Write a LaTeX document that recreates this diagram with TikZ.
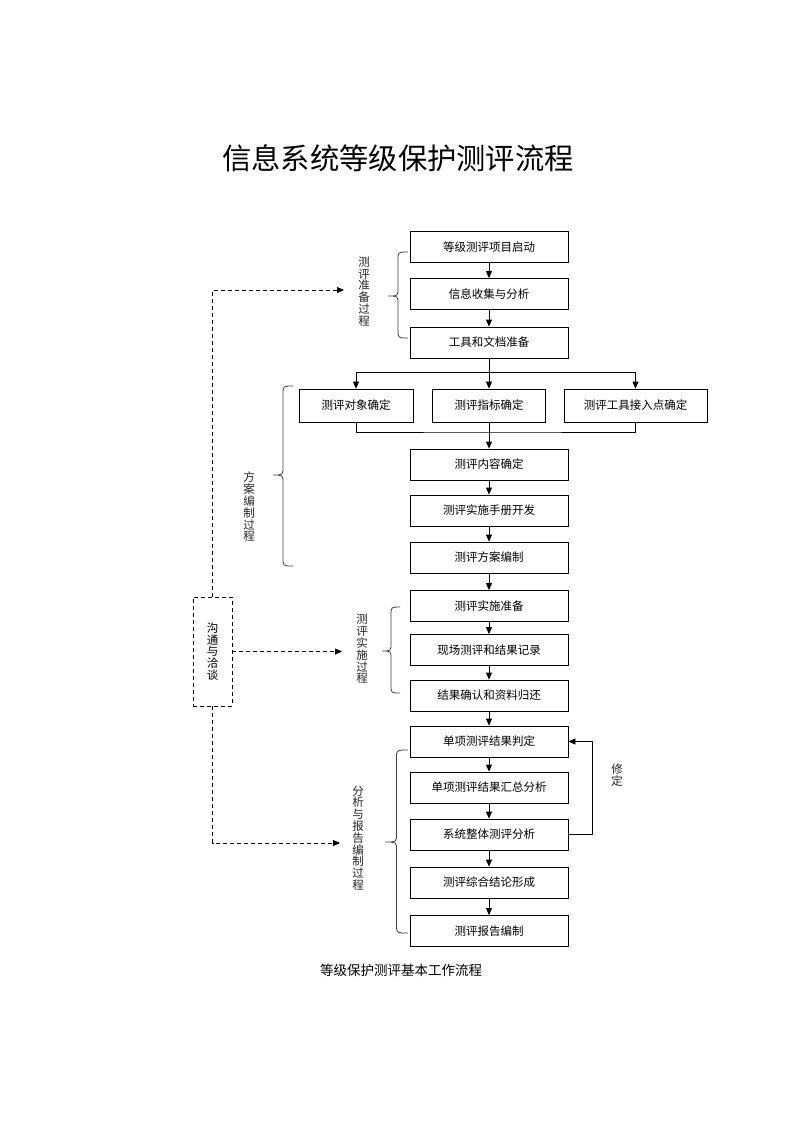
\documentclass[tikz,border=0pt]{standalone}
\usepackage{fontspec}
\setmainfont{Noto Sans CJK SC}
\usetikzlibrary{arrows.meta}
\newcommand\brc[5]{% xr, xtip, top, tip, bot
  \pgfmathsetmacro\xm{(#1+#2)/2}
  \draw[bracestyle] (#1,#3) .. controls (\xm,#3) .. (\xm,#3+8) -- (\xm,#4-8)
    .. controls (\xm,#4) .. (#2,#4) .. controls (\xm,#4) .. (\xm,#4+8)
    -- (\xm,#5-8) .. controls (\xm,#5) .. (#1,#5);}
\tikzset{
  box/.style={draw, line width=0.8pt, minimum width=158pt, minimum height=31pt, inner sep=0pt, font=\fontsize{11.5}{13}\selectfont},
  arr/.style={line width=0.8pt, -{Triangle[length=7pt,width=6pt]}},
  line/.style={line width=0.8pt},
  darr/.style={line width=0.8pt, dash pattern=on 4pt off 3pt, -{Triangle[length=7pt,width=6pt]}},
  bracestyle/.style={line width=0.8pt, black!75},
  vlabel/.style={align=center, inner sep=0pt, font=\fontsize{11.5}{11.8}\selectfont, text=black!85},
}
\begin{document}
\begin{tikzpicture}[x=1pt,y=-1pt]
\useasboundingbox[fill=white] (0,0) rectangle (793,1122);
\node[font=\fontsize{29.3}{33}\selectfont] (title) at (398,158) {信息系统等级保护测评流程};

\node[box] (b1) at (489,247) {等级测评项目启动};
\node[box] (b2) at (489,294) {信息收集与分析};
\node[box] (b3) at (489,342.5) {工具和文档准备};
\node[box, minimum width=114pt, minimum height=33pt] (tl) at (356,405.5) {测评对象确定};
\node[box, minimum width=113pt, minimum height=33pt] (tm) at (489,405.5) {测评指标确定};
\node[box, minimum width=143pt, minimum height=33pt] (tr) at (635.5,405.5) {测评工具接入点确定};
\node[box] (b4) at (489,464.5) {测评内容确定};
\node[box] (b5) at (489,510.5) {测评实施手册开发};
\node[box] (b6) at (489,557.5) {测评方案编制};
\node[box] (b7) at (489,606) {测评实施准备};
\node[box] (b8) at (489,650) {现场测评和结果记录};
\node[box] (b9) at (489,695.5) {结果确认和资料归还};
\node[box] (b10) at (489,741.5) {单项测评结果判定};
\node[box] (b11) at (489,787.5) {单项测评结果汇总分析};
\node[box] (b12) at (489,834.5) {系统整体测评分析};
\node[box] (b13) at (489,882.5) {测评综合结论形成};
\node[box] (b14) at (489,931) {测评报告编制};

\draw[arr] (b1) -- (b2);
\draw[arr] (b2) -- (b3);
\coordinate (sp) at (489,372);
\draw[line] (b3.south) -- (sp);
\draw[arr] (sp) -| (tl.north);
\draw[arr] (sp) -- (tm.north);
\draw[arr] (sp) -| (tr.north);
\coordinate (jn) at (489,432);
\draw[line] (tl.south) |- (jn) -| (tr.south);
\draw[arr] (tm.south) -- (b4.north);
\draw[arr] (b4) -- (b5);
\draw[arr] (b5) -- (b6);
\draw[arr] (b6) -- (b7);
\draw[arr] (b7) -- (b8);
\draw[arr] (b8) -- (b9);
\draw[arr] (b9) -- (b10);
\draw[arr] (b10) -- (b11);
\draw[arr] (b11) -- (b12);
\draw[arr] (b12) -- (b13);
\draw[arr] (b13) -- (b14);
\coordinate (fb) at (592,834.5);
\draw[arr] (b12.east) -- (fb) |- (b10.east);
\node[vlabel] (xd) at (617,775) {修\\定};

% braces and phase labels
\brc{408}{388}{252}{296}{338}
\node[vlabel] (ph1) at (364,291.5) {测\\评\\准\\备\\过\\程};
\brc{293}{273}{386}{475}{566}
\node[vlabel] (ph2) at (249,507) {方\\案\\编\\制\\过\\程};
\brc{400}{382}{607}{651}{693}
\node[vlabel] (ph3) at (362,649) {测\\评\\实\\施\\过\\程};
\brc{408}{385}{750}{842}{933}
\node[vlabel] (ph4) at (358,838) {分\\析\\与\\报\\告\\编\\制\\过\\程};

% communication box
\node[draw, line width=0.8pt, dash pattern=on 4pt off 3pt, minimum width=39pt, minimum height=109pt, inner sep=0pt, align=center, font=\fontsize{11.5}{11.8}\selectfont] (cm) at (212.5,651.5) {沟\\通\\与\\洽\\谈};
\coordinate (a1) at (344,290);
\coordinate (a3) at (342,651.5);
\coordinate (a4) at (340,843);
\draw[darr] (cm.north) |- (a1);
\draw[darr] (cm.east) -- (a3);
\draw[darr] (cm.south) |- (a4);

\node[font=\fontsize{13.5}{16}\selectfont] (cap) at (401,970) {等级保护测评基本工作流程};
\end{tikzpicture}
\end{document}
